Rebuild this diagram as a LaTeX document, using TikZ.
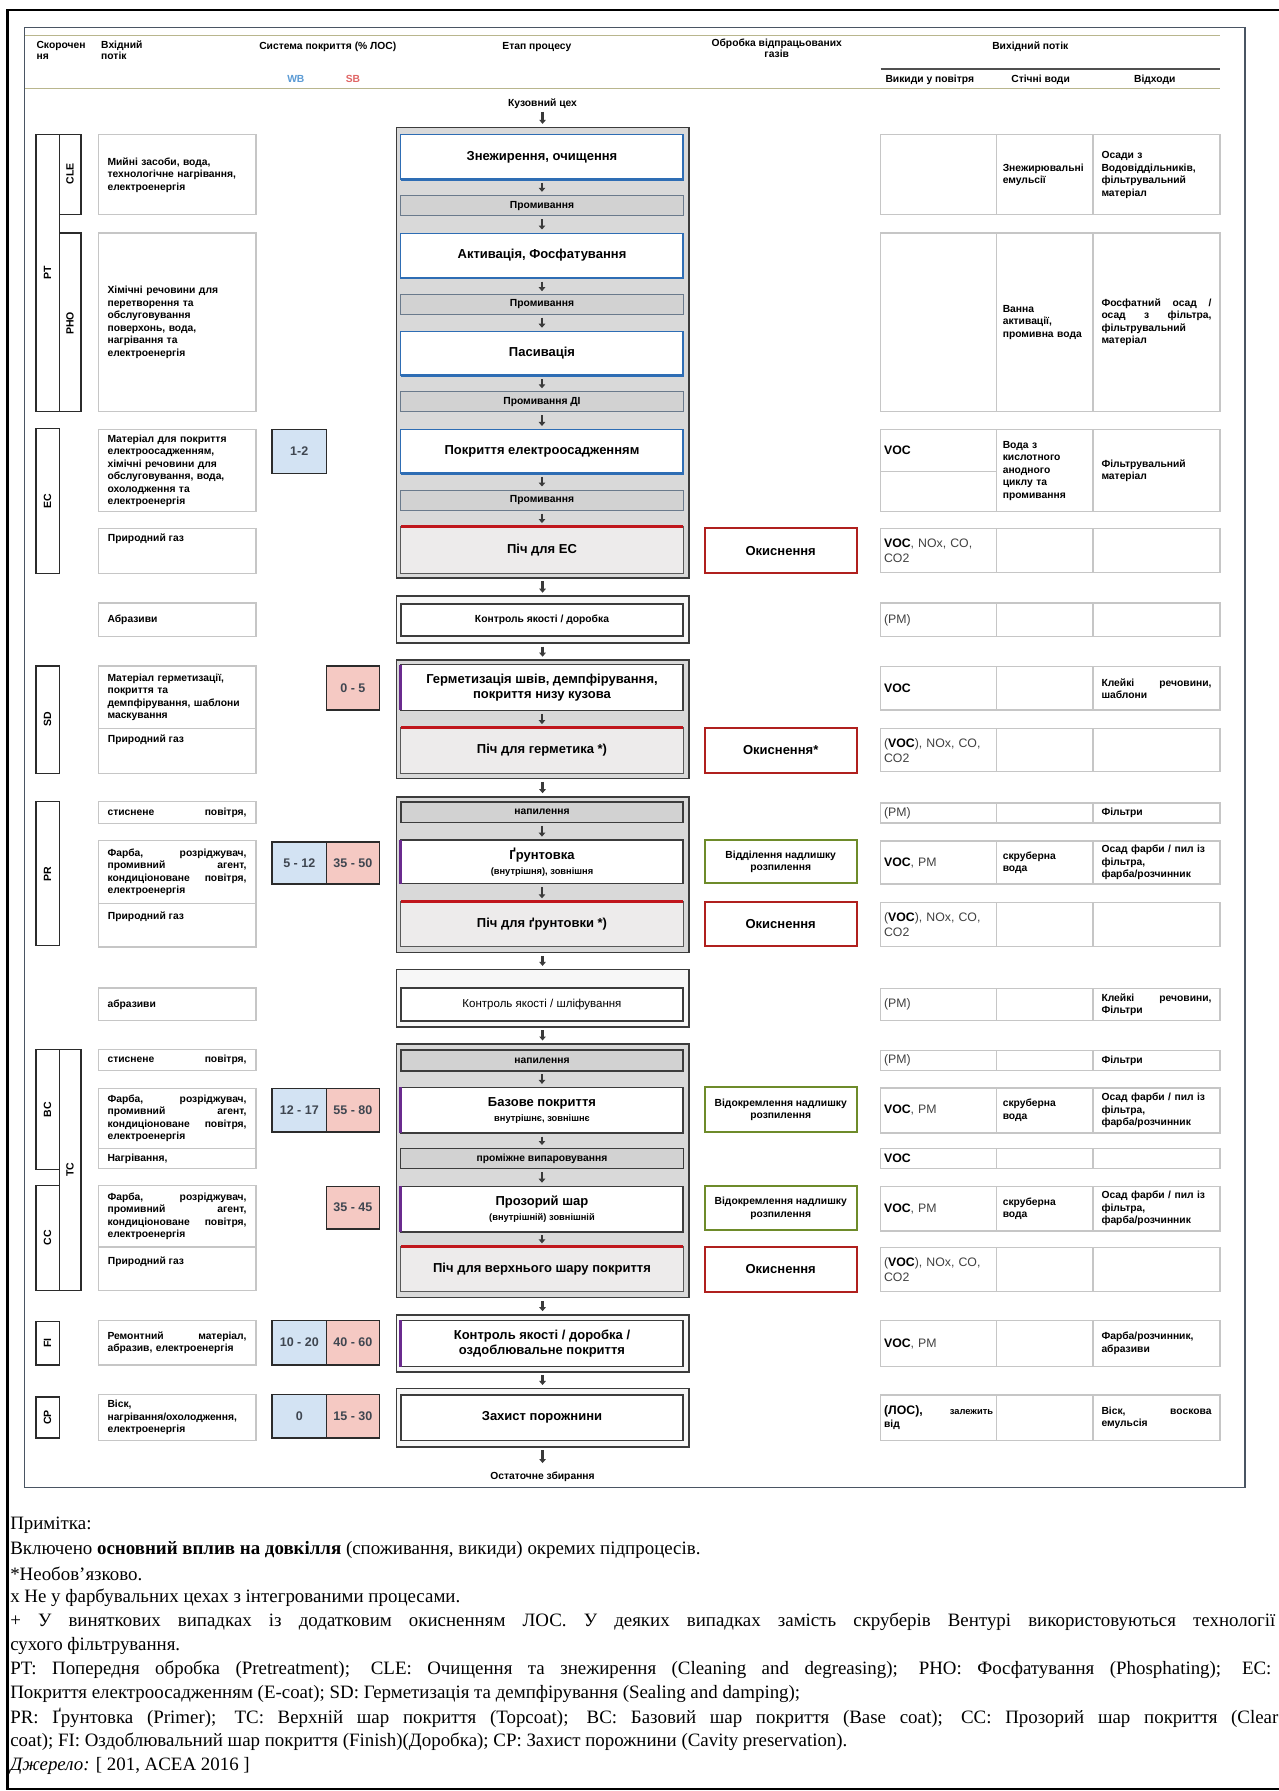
\documentclass[tikz,border=0pt]{standalone}
\usepackage{fontspec}
\setmainfont{Liberation Sans}
\newfontfamily\notefont{Liberation Serif}
\usetikzlibrary{arrows.meta}
\definecolor{panelbd}{HTML}{4A5563}
\definecolor{hdrline}{HTML}{B9B68E}
\definecolor{subline}{HTML}{505050}
\definecolor{wbc}{HTML}{5B9BD5}
\definecolor{sbc}{HTML}{E06666}
\definecolor{inbd}{HTML}{C6C6C6}
\definecolor{abbd}{HTML}{2B2B2B}
\definecolor{wbfill}{HTML}{D3E3F3}
\definecolor{sbfill}{HTML}{F5C9C3}
\definecolor{grpfill}{HTML}{D9D9D9}
\definecolor{grpbd}{HTML}{3C3C3C}
\definecolor{bluebd}{HTML}{2E6DB4}
\definecolor{rinsefill}{HTML}{D2D2D2}
\definecolor{rinsebd}{HTML}{6A7A8C}
\definecolor{ovenfill}{HTML}{EDEBEB}
\definecolor{ovenred}{HTML}{C0161C}
\definecolor{purp}{HTML}{6A2A8E}
\definecolor{oxred}{HTML}{B0201E}
\definecolor{spgreen}{HTML}{6E8B2A}
\definecolor{numc}{HTML}{3F4650}
\definecolor{arrowc}{HTML}{3A3A3A}
\definecolor{outgray}{HTML}{404040}
\newcommand\bigf{\bfseries\fontsize{13}{15}\selectfont}
\newcommand\smallf{\fontsize{9.3}{11}\selectfont}
\newcommand\mkbox[7][]{%
  \pgfmathsetmacro\mkw{(#5-#3)*1.1421}%
  \pgfmathsetmacro\mkh{(#6-#4)*1.1421}%
  \node[inner sep=0pt, outer sep=0pt, minimum width=\mkw pt, minimum height=\mkh pt, #1] (#2) at ({(#3+#5)/2},{(#4+#6)/2}) {#7};}
\newcommand\blueedge[1]{\draw[bluebd, line width=2.6pt] (#1.north east) -- (#1.south east) -- (#1.south west);}
\newcommand\redtop[1]{\draw[ovenred, line width=3pt] (#1.north west) -- (#1.north east);}
\newcommand\purpleft[1]{\draw[purp, line width=3pt] (#1.north west) -- (#1.south west);}
\newcommand\VOC{\textbf{\color{black}VOC}}
\tikzset{
  inbox/.style={draw=inbd, line width=1.3pt, fill=white, align=left, text width=139pt},
  abbox/.style={draw=abbd, line width=1.3pt, fill=white},
  abl/.style={rotate=90, font=\bfseries\fontsize{10.5}{12}\selectfont},
  wbbox/.style={draw=abbd, line width=1.4pt, fill=wbfill, text=numc, font=\bfseries\fontsize{12.5}{14}\selectfont},
  sbbox/.style={draw=abbd, line width=1.4pt, fill=sbfill, text=numc, font=\bfseries\fontsize{12.5}{14}\selectfont},
  grp/.style={draw=grpbd, line width=1.6pt, fill=grpfill},
  bluebox/.style={draw=bluebd, line width=1pt, fill=white, font=\bigf, align=center},
  rinse/.style={draw=rinsebd, line width=1pt, fill=rinsefill, align=center},
  spray/.style={draw=grpbd, line width=1.6pt, fill=rinsefill, align=center},
  oven/.style={draw=gray!70!black, line width=1pt, fill=ovenfill, font=\bigf, align=center},
  purpbox/.style={draw=grpbd, line width=1.3pt, fill=white, align=center, font=\bigf},
  qcout/.style={draw=grpbd, line width=1.6pt, fill=gray!6},
  qcin/.style={draw=grpbd, line width=1.6pt, fill=white, align=center},
  oxbox/.style={draw=oxred, line width=2pt, fill=white, font=\bigf},
  spbox/.style={draw=spgreen, line width=2pt, fill=white, align=center},
  cell/.style={draw=inbd, line width=1.3pt, fill=white, align=left},
  c1/.style={cell, text width=109pt, font=\fontsize{12.3}{15}\selectfont, text=outgray},
  c2/.style={cell, text width=84pt},
  c3/.style={cell, text width=110pt},
  flow/.style={draw=arrowc, line width=2.4pt, -{Triangle[width=6.5pt,length=4pt]}, shorten <=3.5pt, shorten >=3.5pt},
  hdr/.style={font=\bfseries\fontsize{10.3}{11}\selectfont, align=center},
  note/.style={anchor=west, font=\notefont\fontsize{18.9}{24}\selectfont, inner sep=0pt}
}
\begin{document}
\begin{tikzpicture}[x=1.1421pt,y=-1.1421pt, every node/.style={font=\bfseries\fontsize{10.3}{12.5}\selectfont, inner sep=0pt, outer sep=0pt}]
\useasboundingbox (0,0) rectangle (1119,1568);
\fill[white] (0,0) rectangle (1119,1568);
% frame and panel
\draw[black, line width=2.2pt] (1130,9) -- (6.5,9) -- (6.5,1566.5) -- (1130,1566.5);
\draw[panelbd, line width=1.2pt, fill=white] (21.5,24) rectangle (1090,1302);
% header
\draw[hdrline, line width=1.6pt] (22,31) -- (1068,31);
\draw[subline, line width=1.8pt] (771,60.5) -- (1068,60.5);
\draw[hdrline, line width=1.6pt] (22,77.5) -- (1068,77.5);
\node[hdr, align=left, anchor=north west] (h1) at (32,36) {Скорочен\\ня};
\node[hdr, align=left, anchor=north west] (h2) at (88.6,36) {Вхідний\\потік};
\node[hdr] (h3) at (287,41) {Система покриття (\% ЛОС)};
\node[hdr] (h4) at (470,41) {Етап процесу};
\node[hdr, anchor=north] (h5) at (680,34) {Обробка відпрацьованих\\газів};
\node[hdr] (h6) at (902,41) {Вихідний потік};
\node[hdr] (h7) at (814,70) {Викиди у повітря};
\node[hdr] (h8) at (911,70) {Стічні води};
\node[hdr] (h9) at (1011,70) {Відходи};
\node[hdr, text=wbc] (hwb) at (259,69.5) {WB};
\node[hdr, text=sbc] (hsb) at (309,69.5) {SB};
% abbreviation boxes
\mkbox[abbox]{bPT}{31.5}{118}{51.8}{360}{}
\mkbox[abbox]{bCLE}{51.8}{118}{70.8}{188}{}
\mkbox[abbox]{bPHO}{51.8}{204}{70.8}{360}{}
\mkbox[abbox]{bEC}{31.5}{375}{51.8}{502}{}
\mkbox[abbox]{bSD}{31.5}{583}{51.8}{677}{}
\mkbox[abbox]{bPR}{31.5}{702}{51.8}{828}{}
\mkbox[abbox]{bBC}{31.5}{919}{51.8}{1024}{}
\mkbox[abbox]{bTC}{51.8}{919}{70.8}{1129.5}{}
\mkbox[abbox]{bCC}{31.5}{1038}{51.8}{1129.5}{}
\mkbox[abbox]{bFI}{31.5}{1157}{51.8}{1195}{}
\mkbox[abbox]{bCP}{31.5}{1223}{51.8}{1259}{}
\node[abl] (lPT) at (41.5,239) {PT};
\node[abl] (lCLE) at (61.3,152) {CLE};
\node[abl] (lPHO) at (61.3,283) {PHO};
\node[abl] (lEC) at (bEC) {EC};
\node[abl] (lSD) at (bSD) {SD};
\node[abl] (lPR) at (bPR) {PR};
\node[abl] (lBC) at (bBC) {BC};
\node[abl] (lTC) at (bTC) {TC};
\node[abl] (lCC) at (bCC) {CC};
\node[abl] (lFI) at (bFI) {FI};
\node[abl] (lCP) at (bCP) {CP};
% input boxes
\mkbox[inbox]{i1}{86}{118}{224}{188}{Мийні засоби, вода,\\технологічне нагрівання,\\електроенергія}
\mkbox[inbox]{i2}{86}{204}{224}{360.5}{Хімічні речовини для\\перетворення та\\обслуговування\\поверхонь, вода,\\нагрівання та\\електроенергія}
\mkbox[inbox]{i3}{86}{376}{224}{448}{Матеріал для покриття\\електроосадженням,\\хімічні речовини для\\обслуговування, вода,\\охолодження та\\електроенергія}
\mkbox[inbox]{i4}{86}{462.6}{224}{502}{}
\node[anchor=west] (i4t) at (94.5,472) {Природний газ};
\mkbox[inbox]{i5}{86}{528}{224}{557.5}{Абразиви}
\mkbox[inbox]{i6a}{86}{583}{224}{638}{Матеріал герметизації,\\покриття та\\демпфірування, шаблони\\маскування}
\mkbox[inbox]{i6b}{86}{638}{224}{677}{}
\node[anchor=west] (i6t) at (94.5,648) {Природний газ};
\mkbox[inbox]{i7}{86}{702}{224}{721}{стиснене\hfill повітря,}
\mkbox[inbox]{i8a}{86}{736}{224}{791}{Фарба,\hfill розріджувач,\\промивний\hfill агент,\\кондиціоноване\hfill повітря,\\електроенергія}
\mkbox[inbox]{i8b}{86}{791}{224}{829}{}
\node[anchor=west] (i8t) at (94.5,803) {Природний газ};
\mkbox[inbox]{i9}{86}{865}{224}{893.7}{абразиви}
\mkbox[inbox]{i10}{86}{919}{224}{937.5}{стиснене\hfill повітря,}
\mkbox[inbox]{i11a}{86}{953}{224}{1005.5}{Фарба,\hfill розріджувач,\\промивний\hfill агент,\\кондиціоноване\hfill повітря,\\електроенергія}
\mkbox[inbox]{i11b}{86}{1005.5}{224}{1023}{Нагрівання,}
\mkbox[inbox]{i12a}{86}{1038}{224}{1091.6}{Фарба,\hfill розріджувач,\\промивний\hfill агент,\\кондиціоноване\hfill повітря,\\електроенергія}
\mkbox[inbox]{i12b}{86}{1091.6}{224}{1129.5}{}
\node[anchor=west] (i12t) at (94.5,1104.7) {Природний газ};
\mkbox[inbox]{i13}{86}{1156}{224}{1195}{Ремонтний\hfill матеріал,\\абразив, електроенергія}
\mkbox[inbox]{i14}{86}{1221}{224}{1261}{Віск,\\нагрівання/охолодження,\\електроенергія}
% VOC percentage boxes
\mkbox[wbbox]{v1}{238}{376}{286}{414.5}{1-2}
\mkbox[sbbox]{v2}{286}{583}{332}{621.6}{0 - 5}
\mkbox[wbbox]{v3a}{238}{737}{286}{774}{5 - 12}
\mkbox[sbbox]{v3b}{286}{737}{332}{774}{35 - 50}
\mkbox[wbbox]{v4a}{238}{953}{286}{991}{12 - 17}
\mkbox[sbbox]{v4b}{286}{953}{332}{991}{55 - 80}
\mkbox[sbbox]{v5}{286}{1038.5}{332}{1076}{35 - 45}
\mkbox[wbbox]{v6a}{238}{1156}{286}{1195}{10 - 20}
\mkbox[sbbox]{v6b}{286}{1156}{332}{1195}{40 - 60}
\mkbox[wbbox]{v7a}{238}{1221}{286}{1259}{0}
\mkbox[sbbox]{v7b}{286}{1221}{332}{1259}{15 - 30}
% process column
\node (kuz) at (475,90.5) {Кузовний цех};
\mkbox[grp]{g1}{347}{111.5}{603}{506}{}
\mkbox[bluebox]{s1}{351}{118}{598}{157}{Знежирення, очищення}\blueedge{s1}
\mkbox[rinse]{r1}{351}{171}{598}{189}{Промивання}
\mkbox[bluebox]{s2}{351}{204}{598}{243.5}{Активація, Фосфатування}\blueedge{s2}
\mkbox[rinse]{r2}{351}{258}{598}{275}{Промивання}
\mkbox[bluebox]{s3}{351}{290}{598}{329}{Пасивація}\blueedge{s3}
\mkbox[rinse]{r3}{351}{343}{598}{360.5}{Промивання ДІ}
\mkbox[bluebox]{s4}{351}{376}{598}{414.5}{Покриття електроосадженням}\blueedge{s4}
\mkbox[rinse]{r4}{351}{429}{598}{446.5}{Промивання}
\mkbox[oven]{s5}{351}{461}{598}{502}{Піч для ЕС}\redtop{s5}
\mkbox[qcout]{q1o}{347}{522}{603}{563}{}
\mkbox[qcin]{q1}{351}{529}{598}{557}{Контроль якості / доробка}
\mkbox[grp]{g2}{347}{578}{603}{681.5}{}
\mkbox[purpbox]{d1}{351}{582}{598}{622}{Герметизація швів, демпфірування,\\покриття низу кузова}\purpleft{d1}
\mkbox[oven]{d2}{351}{637}{598}{677}{Піч для герметика *)}\redtop{d2}
\mkbox[grp]{g3}{347}{697.5}{603}{834}{}
\mkbox[spray]{p0}{351}{702}{598}{720}{напилення}
\mkbox[purpbox]{p1}{351}{735.5}{598}{773.5}{Ґрунтовка\\{\smallf\bfseries (внутрішня), зовнішня}}\purpleft{p1}
\mkbox[oven]{p2}{351}{789.5}{598}{829}{Піч для ґрунтовки *)}\redtop{p2}
\mkbox[qcout]{q2o}{347}{848.7}{603}{899}{}
\mkbox[qcin, font=\mdseries\fontsize{11.5}{13}\selectfont]{q2}{351}{865}{598}{893.7}{Контроль якості / шліфування}
\mkbox[grp]{g4}{347}{914}{603}{1136}{}
\mkbox[spray]{t0}{351}{919}{598}{937.5}{напилення}
\mkbox[purpbox]{t1}{351}{952}{598}{992}{Базове покриття\\{\smallf\bfseries внутрішнє, зовнішнє}}\purpleft{t1}
\mkbox[rinse, draw=grpbd]{t2}{351}{1005.5}{598}{1023}{проміжне випаровування}
\mkbox[purpbox]{t3}{351}{1038.5}{598}{1078.5}{Прозорий шар\\{\smallf\bfseries (внутрішній) зовнішній}}\purpleft{t3}
\mkbox[oven]{t4}{351}{1091.6}{598}{1131}{Піч для верхнього шару покриття}\redtop{t4}
\mkbox[qcout]{fo}{347}{1151}{603}{1201}{}
\mkbox[purpbox]{fi}{351}{1156}{598}{1196.6}{Контроль якості / доробка /\\оздоблювальне покриття}\purpleft{fi}
\mkbox[qcout]{co}{347}{1215.6}{603}{1266.7}{}
\mkbox[qcin, font=\bigf]{cp}{351}{1221.5}{598}{1261}{Захист порожнини}
\node (fin) at (475,1293) {Остаточне збирання};
% arrows
\draw[flow] (kuz.south) -- (g1.north);
\draw[flow] (s1.south) -- (r1.north);
\draw[flow] (r1.south) -- (s2.north);
\draw[flow] (s2.south) -- (r2.north);
\draw[flow] (r2.south) -- (s3.north);
\draw[flow] (s3.south) -- (r3.north);
\draw[flow] (r3.south) -- (s4.north);
\draw[flow] (s4.south) -- (r4.north);
\draw[flow] (r4.south) -- (s5.north);
\draw[flow] (g1.south) -- (q1o.north);
\draw[flow] (q1o.south) -- (g2.north);
\draw[flow] (d1.south) -- (d2.north);
\draw[flow] (g2.south) -- (g3.north);
\draw[flow] (p0.south) -- (p1.north);
\draw[flow] (p1.south) -- (p2.north);
\draw[flow] (g3.south) -- (q2o.north);
\draw[flow] (q2o.south) -- (g4.north);
\draw[flow] (t0.south) -- (t1.north);
\draw[flow] (t1.south) -- (t2.north);
\draw[flow] (t2.south) -- (t3.north);
\draw[flow] (t3.south) -- (t4.north);
\draw[flow] (g4.south) -- (fo.north);
\draw[flow] (fo.south) -- (co.north);
\draw[flow, shorten >=9pt] (co.south) -- (fin.north);
% exhaust gas treatment
\mkbox[oxbox]{x1}{617}{462.6}{750}{501.5}{Окиснення}
\mkbox[oxbox]{x2}{617}{637}{750}{677}{Окиснення*}
\mkbox[spbox]{x3}{617}{735.6}{750}{773.4}{Відділення надлишку\\розпилення}
\mkbox[oxbox]{x4}{617}{789.5}{750}{828}{Окиснення}
\mkbox[spbox]{x5}{617}{952}{750}{991}{Відокремлення надлишку\\розпилення}
\mkbox[spbox]{x6}{617}{1038.5}{750}{1077}{Відокремлення надлишку\\розпилення}
\mkbox[oxbox]{x7}{617}{1091.6}{750}{1131}{Окиснення}
% output table
\mkbox[c1]{o1a}{771}{118}{872.4}{188}{}
\mkbox[c2]{o1b}{872.4}{118}{957}{188}{Знежирювальні\\емульсії}
\mkbox[c3]{o1c}{957}{118}{1068}{188}{Осади з\\Водовіддільників,\\фільтрувальний\\матеріал}
\mkbox[c1]{o2a}{771}{204}{872.4}{360.5}{}
\mkbox[c2]{o2b}{872.4}{204}{957}{360.5}{Ванна\\активації,\\промивна вода}
\mkbox[c3]{o2c}{957}{204}{1068}{360.5}{Фосфатний\hfill осад\hfill /\\осад\hfill з\hfill фільтра,\\фільтрувальний\\матеріал}
\mkbox[c1]{o3a}{771}{376}{872.4}{413}{\VOC}
\mkbox[c1]{o3d}{771}{413}{872.4}{448}{}
\mkbox[c2]{o3b}{872.4}{376}{957}{448}{Вода з\\кислотного\\анодного\\циклу та\\промивання}
\mkbox[c3]{o3c}{957}{376}{1068}{448}{Фільтрувальний\\матеріал}
\mkbox[c1]{o4a}{771}{462.6}{872.4}{501.5}{\VOC, NOx, CO,\\CO2}
\mkbox[c2]{o4b}{872.4}{462.6}{957}{501.5}{}
\mkbox[c3]{o4c}{957}{462.6}{1068}{501.5}{}
\mkbox[c1]{o5a}{771}{528}{872.4}{557.5}{(PM)}
\mkbox[c2]{o5b}{872.4}{528}{957}{557.5}{}
\mkbox[c3]{o5c}{957}{528}{1068}{557.5}{}
\mkbox[c1]{o6a}{771}{583.8}{872.4}{621.7}{\VOC}
\mkbox[c2]{o6b}{872.4}{583.8}{957}{621.7}{}
\mkbox[c3]{o6c}{957}{583.8}{1068}{621.7}{Клейкі\hfill речовини,\\шаблони}
\mkbox[c1]{o7a}{771}{637.8}{872.4}{675.7}{(\VOC), NOx, CO,\\CO2}
\mkbox[c2]{o7b}{872.4}{637.8}{957}{675.7}{}
\mkbox[c3]{o7c}{957}{637.8}{1068}{675.7}{}
\mkbox[c1]{o8a}{771}{702.9}{872.4}{720.4}{(PM)}
\mkbox[c2]{o8b}{872.4}{702.9}{957}{720.4}{}
\mkbox[c3]{o8c}{957}{702.9}{1068}{720.4}{Фільтри}
\mkbox[c1]{o9a}{771}{736.2}{872.4}{774}{\VOC, PM}
\mkbox[c2]{o9b}{872.4}{736.2}{957}{774}{скруберна\\вода}
\mkbox[c3]{o9c}{957}{736.2}{1068}{774}{Осад фарби / пил із\\фільтра,\\фарба/розчинник}
\mkbox[c1]{o10a}{771}{790.4}{872.4}{828.9}{(\VOC), NOx, CO,\\CO2}
\mkbox[c2]{o10b}{872.4}{790.4}{957}{828.9}{}
\mkbox[c3]{o10c}{957}{790.4}{1068}{828.9}{}
\mkbox[c1]{o11a}{771}{865.4}{872.4}{893.7}{(PM)}
\mkbox[c2]{o11b}{872.4}{865.4}{957}{893.7}{}
\mkbox[c3]{o11c}{957}{865.4}{1068}{893.7}{Клейкі\hfill речовини,\\Фільтри}
\mkbox[c1]{o12a}{771}{919.4}{872.4}{937.5}{(PM)}
\mkbox[c2]{o12b}{872.4}{919.4}{957}{937.5}{}
\mkbox[c3]{o12c}{957}{919.4}{1068}{937.5}{Фільтри}
\mkbox[c1]{o13a}{771}{952.4}{872.4}{991.8}{\VOC, PM}
\mkbox[c2]{o13b}{872.4}{952.4}{957}{991.8}{скруберна\\вода}
\mkbox[c3]{o13c}{957}{952.4}{1068}{991.8}{Осад фарби / пил із\\фільтра,\\фарба/розчинник}
\mkbox[c1]{o14a}{771}{1005.5}{872.4}{1023}{\VOC}
\mkbox[c2]{o14b}{872.4}{1005.5}{957}{1023}{}
\mkbox[c3]{o14c}{957}{1005.5}{1068}{1023}{}
\mkbox[c1]{o15a}{771}{1038.5}{872.4}{1077.6}{\VOC, PM}
\mkbox[c2]{o15b}{872.4}{1038.5}{957}{1077.6}{скруберна\\вода}
\mkbox[c3]{o15c}{957}{1038.5}{1068}{1077.6}{Осад фарби / пил із\\фільтра,\\фарба/розчинник}
\mkbox[c1]{o16a}{771}{1092}{872.4}{1130.4}{(\VOC), NOx, CO,\\CO2}
\mkbox[c2]{o16b}{872.4}{1092}{957}{1130.4}{}
\mkbox[c3]{o16c}{957}{1092}{1068}{1130.4}{}
\mkbox[c1]{o17a}{771}{1155.8}{872.4}{1196.6}{\VOC, PM}
\mkbox[c2]{o17b}{872.4}{1155.8}{957}{1196.6}{}
\mkbox[c3]{o17c}{957}{1155.8}{1068}{1196.6}{Фарба/розчинник,\\абразиви}
\mkbox[c1]{o18a}{771}{1221.4}{872.4}{1260.9}{\textbf{\color{black}(ЛОС),}\hfill{\bfseries\color{black}\fontsize{9.3}{11}\selectfont залежить}\\[-2pt]{\bfseries\color{black}\fontsize{10.3}{12}\selectfont від}}
\mkbox[c2]{o18b}{872.4}{1221.4}{957}{1260.9}{}
\mkbox[c3]{o18c}{957}{1221.4}{1068}{1260.9}{Віск,\hfill воскова\\емульсія}
% notes
\node[note] (n1) at (9,1335) {Примітка:};
\node[note] (n2) at (9,1357) {Включено \textbf{основний вплив на довкілля} (споживання, викиди) окремих підпроцесів.};
\node[note] (n3) at (9,1378) {*Необов’язково.};
\node[note] (n4) at (9,1399) {x Не у фарбувальних цехах з інтегрованими процесами.};
\node[note] (n5) at (9,1420) {\makebox[1265pt][s]{+ У виняткових випадках із додатковим окисненням ЛОС. У деяких випадках замість скруберів Вентурі використовуються технології}};
\node[note] (n6) at (9,1441) {сухого фільтрування.};
\node[note] (n7) at (9,1462) {\makebox[1261pt][s]{PT: Попередня обробка (Pretreatment); CLE: Очищення та знежирення (Cleaning and degreasing); PHO: Фосфатування (Phosphating); EC:}};
\node[note] (n8) at (9,1483) {Покриття електроосадженням (E-coat); SD: Герметизація та демпфірування (Sealing and damping);};
\node[note] (n9) at (9,1504) {\makebox[1268pt][s]{PR: Ґрунтовка (Primer); TC: Верхній шар покриття (Topcoat); BC: Базовий шар покриття (Base coat); CC: Прозорий шар покриття (Clear}};
\node[note] (n10) at (9,1525) {coat); FI: Оздоблювальний шар покриття (Finish)(Доробка); CP: Захист порожнини (Cavity preservation).};
\node[note] (n11) at (9,1546) {\textit{Джерело:} [ 201, ACEA 2016 ]};
\end{tikzpicture}
\end{document}
